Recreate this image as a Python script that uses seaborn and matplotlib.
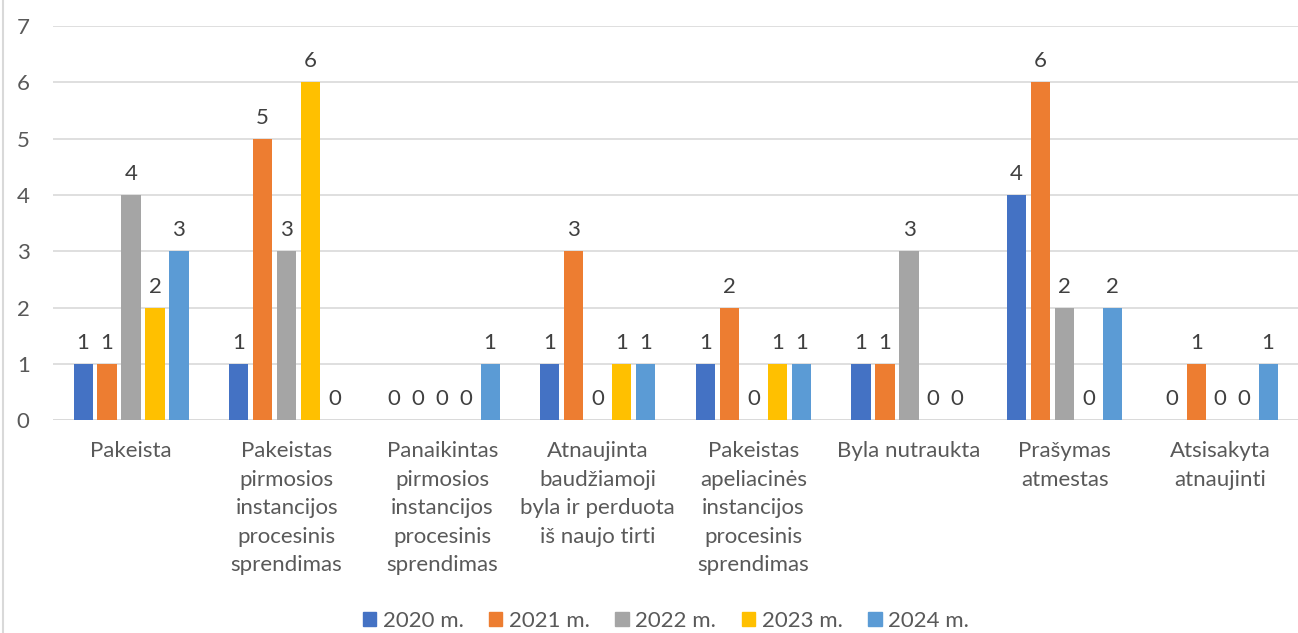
import pandas as pd
import seaborn as sns
import matplotlib.pyplot as plt
from matplotlib.lines import Line2D

# Categories (wrapped like the original chart)
categories = [
    "Pakeista",
    "Pakeistas\npirmosios\ninstancijos\nprocesinis\nsprendimas",
    "Panaikintas\npirmosios\ninstancijos\nprocesinis\nsprendimas",
    "Atnaujinta\nbaudžiamoji\nbyla ir perduota\niš naujo tirti",
    "Pakeistas\napeliacinės\ninstancijos\nprocesinis\nsprendimas",
    "Byla nutraukta",
    "Prašymas\natmestas",
    "Atsisakyta\natnaujinti",
]
years = ["2020 m.", "2021 m.", "2022 m.", "2023 m.", "2024 m."]

v2020 = [1, 1, 0, 1, 1, 1, 4, 0]
v2021 = [1, 5, 0, 3, 2, 1, 6, 1]
v2022 = [4, 3, 0, 0, 0, 3, 2, 0]
v2023 = [2, 6, 0, 1, 1, 0, 0, 0]
v2024 = [3, 0, 1, 1, 1, 0, 2, 1]

colors = ["#4472C4", "#ED7D31", "#A5A5A5", "#FFC000", "#5B9BD5"]

# Long-form table for seaborn
rows = []
for year, vals in zip(years, [v2020, v2021, v2022, v2023, v2024]):
    for cat, v in zip(categories, vals):
        rows.append({"Kategorija": cat, "Metai": year, "Reikšmė": v})
df = pd.DataFrame(rows)

sns.set_style("white")
plt.rcParams["font.family"] = ["Lato", "DejaVu Sans"]
txt = "#595959"

fig = plt.figure(figsize=(12.98, 6.33), dpi=100)
ax = fig.add_axes([0.041, 0.336, 0.959, 0.623])

sns.barplot(data=df, x="Kategorija", y="Reikšmė", hue="Metai",
            palette=colors, saturation=1, width=0.77, gap=0.2,
            linewidth=0, ax=ax, legend=False)

for cont in ax.containers:
    ax.bar_label(cont, padding=8, fontsize=16, color="#404040")

ax.set_ylim(0, 7)
ax.set_yticks(range(0, 8))
ax.yaxis.grid(True, color="#D9D9D9", linewidth=1.2)
ax.set_axisbelow(True)
for s in ["top", "right", "left", "bottom"]:
    ax.spines[s].set_visible(False)
ax.axhline(0, color="#D9D9D9", linewidth=1.2, zorder=0)
ax.set_xlabel("")
ax.set_ylabel("")
ax.tick_params(axis="both", length=0, labelsize=16, colors=txt)
ax.tick_params(axis="x", pad=15)
ax.tick_params(axis="y", pad=17)
for lab in ax.get_xticklabels():
    lab.set_linespacing(1.53)

handles = [plt.Rectangle((0, 0), 1, 1, color=c) for c in colors]
fig.legend(handles, years, loc="lower center", ncol=5, frameon=False,
           fontsize=16, labelcolor=txt, handlelength=0.6, handleheight=0.6,
           handletextpad=0.3, columnspacing=1.15, bbox_to_anchor=(0.513, -0.028))

fig.add_artist(Line2D([0.002, 0.002], [0, 1], color="#D9D9D9", linewidth=1.5,
                      transform=fig.transFigure))

fig.savefig("out.png", dpi=100)
